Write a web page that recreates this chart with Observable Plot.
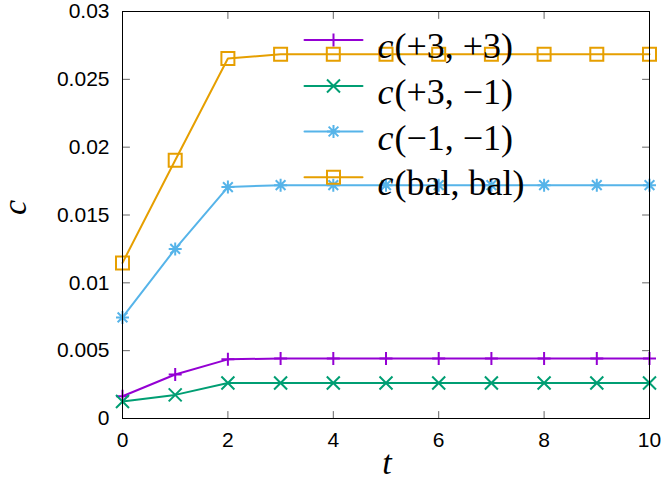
<!DOCTYPE html>
<html><head><meta charset="utf-8">
<script src="https://cdn.jsdelivr.net/npm/d3@7"></script>
<script src="https://cdn.jsdelivr.net/npm/@observablehq/plot@0.6"></script>
<style>html,body{margin:0;padding:0;background:#fff}</style>
</head><body><div id="chart"></div>
<script>
const t = [0, 1, 2, 3, 4, 5, 6, 7, 8, 9, 10];
const c_p3p3 = [0.00164, 0.00324, 0.00436, 0.00443, 0.00443, 0.00443, 0.00443, 0.00443, 0.00443, 0.00443, 0.00443];
const c_p3m1 = [0.00125, 0.00174, 0.00262, 0.00262, 0.00262, 0.00262, 0.00262, 0.00262, 0.00262, 0.00262, 0.00262];
const c_m1m1 = [0.00745, 0.0125, 0.01706, 0.0172, 0.0172, 0.0172, 0.0172, 0.0172, 0.0172, 0.0172, 0.0172];
const c_bal = [0.01147, 0.01904, 0.02654, 0.02684, 0.02684, 0.02684, 0.02684, 0.02684, 0.02684, 0.02684, 0.02684];
const seriesNames = ["(+3, +3)", "(+3, \u22121)", "(\u22121, \u22121)", "(bal, bal)"];
const seriesColors = ["#9400d3", "#009e73", "#56b4e9", "#e69f00"];
const xTicks = [0, 2, 4, 6, 8, 10];
const yTicks = [0, 0.005, 0.01, 0.015, 0.02, 0.025, 0.03];
const yTickLabels = ["0", "0.005", "0.01", "0.015", "0.02", "0.025", "0.03"];

const R = size => Math.sqrt(size / Math.PI);
const symPlus = {draw(c, s){const r = R(s); c.moveTo(-r,0); c.lineTo(r,0); c.moveTo(0,-r); c.lineTo(0,r);}};
const symTimes = {draw(c, s){const r = R(s); c.moveTo(-r,-r); c.lineTo(r,r); c.moveTo(-r,r); c.lineTo(r,-r);}};
const symStar = {draw(c, s){const r = R(s); const q = r*0.75; c.moveTo(-r,0); c.lineTo(r,0); c.moveTo(0,-r); c.lineTo(0,r); c.moveTo(-q,-q); c.lineTo(q,q); c.moveTo(-q,q); c.lineTo(q,-q);}};
const symSquare = {draw(c, s){const r = R(s); c.moveTo(-r,-r); c.lineTo(r,-r); c.lineTo(r,r); c.lineTo(-r,r); c.closePath();}};
const symbols = [symPlus, symTimes, symStar, symSquare];
const symR = [6.5, 6.5, 6.5, 6.5];

const seriesVals = [c_p3p3, c_p3m1, c_m1m1, c_bal];
const tickShape = {draw(c, l){c.moveTo(0,0); c.lineTo(0,-l);}};

const marks = [];
// inward ticks on all four sides
const tickStyle = {length: 7, anchor: "start", shape: tickShape, stroke: "#666", strokeWidth: 1};
marks.push(Plot.vector(yTicks, {y: d => d, frameAnchor: "left", rotate: 90, ...tickStyle}));
marks.push(Plot.vector(yTicks, {y: d => d, frameAnchor: "right", rotate: -90, ...tickStyle}));
marks.push(Plot.vector(xTicks, {x: d => d, frameAnchor: "bottom", rotate: 0, ...tickStyle}));
marks.push(Plot.vector(xTicks, {x: d => d, frameAnchor: "top", rotate: 180, ...tickStyle}));

seriesVals.forEach((vals, i) => {
  const data = t.map((tt, j) => ({t: tt, c: vals[j]}));
  marks.push(Plot.line(data, {x: "t", y: "c", stroke: seriesColors[i], strokeWidth: 2}));
  marks.push(Plot.dot(data, {x: "t", y: "c", symbol: symbols[i], r: symR[i], stroke: seriesColors[i], strokeWidth: 2, fill: "none"}));
});

// legend
const legRowDy = [28.5, 74.5, 120, 165.7];
seriesNames.forEach((name, i) => {
  marks.push(Plot.vector([0], {frameAnchor: "top-left", dx: 182, dy: legRowDy[i], rotate: 90, length: 58, anchor: "start", shape: tickShape, stroke: seriesColors[i], strokeWidth: 2}));
  marks.push(Plot.dot([0], {frameAnchor: "top-left", dx: 211, dy: legRowDy[i], symbol: symbols[i], r: symR[i], stroke: seriesColors[i], strokeWidth: 2, fill: "none"}));
  marks.push(Plot.text(["c"], {frameAnchor: "top-left", dx: 255, dy: legRowDy[i] + 18, text: d => d, textAnchor: "start", lineAnchor: "bottom", fontFamily: "Liberation Serif", fontStyle: "italic", fontSize: 36, fill: "black"}));
  marks.push(Plot.text([name], {frameAnchor: "top-left", dx: 272, dy: legRowDy[i] + 18, text: d => d, textAnchor: "start", lineAnchor: "bottom", fontFamily: "Liberation Serif", fontSize: 36, fill: "black"}));
});

marks.push(Plot.frame({stroke: "black", strokeWidth: 1}));
marks.push(Plot.axisX({ticks: xTicks, tickSize: 0, tickPadding: 14, fontSize: 21, label: null, tickFormat: d => String(d)}));
marks.push(Plot.axisY({ticks: yTicks, tickSize: 0, tickPadding: 13, fontSize: 21, label: null, tickFormat: (d, i) => yTickLabels[yTicks.indexOf(d)]}));
marks.push(Plot.text(["c"], {frameAnchor: "left", dx: -107, rotate: -90, text: d => d, fontFamily: "Liberation Serif", fontStyle: "italic", fontSize: 34, fill: "black"}));
marks.push(Plot.text(["t"], {frameAnchor: "bottom", dx: 1, dy: 55, text: d => d, fontFamily: "Liberation Serif", fontStyle: "italic", fontSize: 34, fill: "black"}));

const chart = Plot.plot({
  width: 664, height: 483,
  marginLeft: 122, marginRight: 15, marginTop: 11, marginBottom: 65,
  x: {domain: [0, 10]},
  y: {domain: [0, 0.03]},
  style: {fontFamily: "Liberation Sans", fontSize: "21px", background: "white", color: "black"},
  marks
});
document.getElementById("chart").appendChild(chart);
</script>
</body></html>
